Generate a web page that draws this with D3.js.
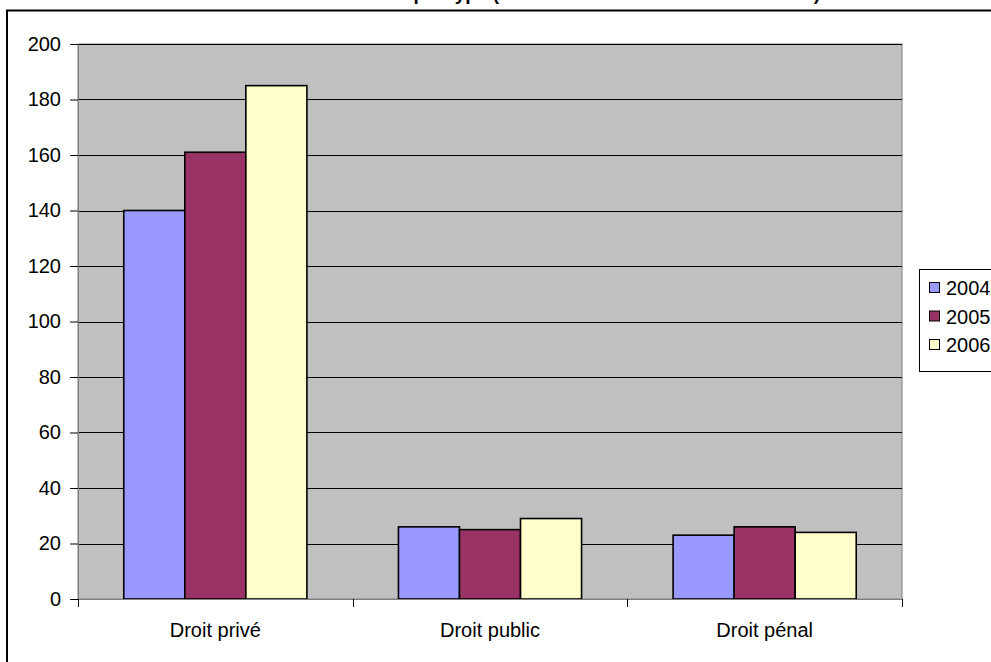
<!DOCTYPE html>
<html>
<head>
<meta charset="utf-8">
<script src="https://cdn.jsdelivr.net/npm/d3@7"></script>
<style>
  body { margin: 0; background: #fff; }
  text { font-family: "Liberation Sans", Arial, sans-serif; }
</style>
</head>
<body>
<div id="chart"></div>
<script>
// data
var categories = ["Droit privé", "Droit public", "Droit pénal"];
var years = ["2004", "2005", "2006"];
var values2004 = [140, 26, 23];
var values2005 = [161, 25, 26];
var values2006 = [185, 29, 24];
var yTicks = [0, 20, 40, 60, 80, 100, 120, 140, 160, 180, 200];
var colors = ["#9999FF", "#993366", "#FFFFCC"];

var seriesValues = [values2004, values2005, values2006];

var svgWidth = 991;
var svgHeight = 662;

var plot = { left: 78, right: 902, top: 44, bottom: 599 };

var svg = d3.select("#chart")
  .append("svg")
  .attr("width", svgWidth)
  .attr("height", svgHeight);

// outer chart frame (cut off to the right and bottom)
svg.append("path")
  .attr("d", "M7,670 L7,10.5 L1000,10.5")
  .attr("fill", "none")
  .attr("stroke", "#000")
  .attr("stroke-width", 2);

// title, mostly outside the picture: only descenders show
svg.append("text")
  .attr("x", 820)
  .attr("y", -0.5)
  .attr("text-anchor", "end")
  .style("font-size", "19px")
  .style("font-weight", "bold")
  .text("Affaires traitées par type (nombre total de décisions rendues)");

// scales
var x0 = d3.scaleBand()
  .domain(categories)
  .range([plot.left, plot.right])
  .paddingInner(0)
  .paddingOuter(0);

var x1 = d3.scaleBand()
  .domain(years)
  .range([0, x0.bandwidth()])
  .paddingOuter(0.75)
  .paddingInner(0);

var y = d3.scaleLinear()
  .domain([0, 200])
  .range([plot.bottom, plot.top]);

// plot area
svg.append("rect")
  .attr("x", plot.left)
  .attr("y", plot.top)
  .attr("width", plot.right - plot.left)
  .attr("height", plot.bottom - plot.top)
  .attr("fill", "#C0C0C0")
  .attr("stroke", "#808080")
  .attr("stroke-width", 1);

// gridlines
svg.append("g")
  .selectAll("line")
  .data(yTicks.slice(1))
  .enter()
  .append("line")
  .attr("x1", plot.left)
  .attr("x2", plot.right)
  .attr("y1", d => Math.round(y(d)) + 0.5)
  .attr("y2", d => Math.round(y(d)) + 0.5)
  .attr("stroke", "#000")
  .attr("stroke-width", 1);

// bars
var groups = svg.append("g")
  .selectAll("g")
  .data(categories)
  .enter()
  .append("g")
  .attr("transform", d => `translate(${x0(d)},0)`);

groups.selectAll("rect")
  .data((d, i) => years.map((yr, j) => ({ year: yr, value: seriesValues[j][i], idx: j })))
  .enter()
  .append("rect")
  .attr("x", d => x1(d.year))
  .attr("y", d => y(d.value))
  .attr("width", x1.bandwidth())
  .attr("height", d => y(0) - y(d.value))
  .attr("fill", d => colors[d.idx])
  .attr("stroke", "#000")
  .attr("stroke-width", 1.6);

// y axis
var leftAxis = d3.axisLeft(y)
  .tickValues(yTicks)
  .tickSize(8)
  .tickPadding(9);

var yAxis = svg.append("g")
  .attr("transform", `translate(${plot.left},0)`)
  .call(leftAxis);

yAxis.select(".domain").attr("stroke", "#808080");
yAxis.selectAll(".tick line").attr("stroke", "#000");
yAxis.selectAll("text")
  .style("font-size", "20px")
  .style("font-family", "'Liberation Sans', Arial, sans-serif")
  .attr("fill", "#000");

// x axis with ticks between categories
var xAxisG = svg.append("g");

xAxisG.append("line")
  .attr("x1", plot.left)
  .attr("x2", plot.right)
  .attr("y1", plot.bottom + 0.5)
  .attr("y2", plot.bottom + 0.5)
  .attr("stroke", "#808080");

var boundaries = categories.map(c => x0(c)).concat([x0(categories[categories.length - 1]) + x0.bandwidth()]);

xAxisG.selectAll(".xtick")
  .data(boundaries)
  .enter()
  .append("line")
  .attr("class", "xtick")
  .attr("x1", d => Math.round(d) + 0.5)
  .attr("x2", d => Math.round(d) + 0.5)
  .attr("y1", plot.bottom)
  .attr("y2", plot.bottom + 8)
  .attr("stroke", "#000");

xAxisG.selectAll(".xlabel")
  .data(categories)
  .enter()
  .append("text")
  .attr("class", "xlabel")
  .attr("x", d => x0(d) + x0.bandwidth() / 2)
  .attr("y", 637)
  .attr("text-anchor", "middle")
  .style("font-size", "20px")
  .text(d => d);

// legend
var legend = svg.append("g")
  .attr("transform", "translate(919,269)");

legend.append("rect")
  .attr("x", 0.5)
  .attr("y", 0.5)
  .attr("width", 100)
  .attr("height", 102)
  .attr("fill", "#fff")
  .attr("stroke", "#000")
  .attr("stroke-width", 1);

var items = legend.selectAll(".item")
  .data(years)
  .enter()
  .append("g")
  .attr("class", "item")
  .attr("transform", (d, i) => `translate(0,${19 + i * 28.5})`);

items.append("rect")
  .attr("x", 10.5)
  .attr("y", -5.5)
  .attr("width", 10)
  .attr("height", 10)
  .attr("fill", (d, i) => colors[i])
  .attr("stroke", "#000");

items.append("text")
  .attr("x", 27)
  .attr("y", 7)
  .style("font-size", "20px")
  .text(d => d);
</script>
</body>
</html>
